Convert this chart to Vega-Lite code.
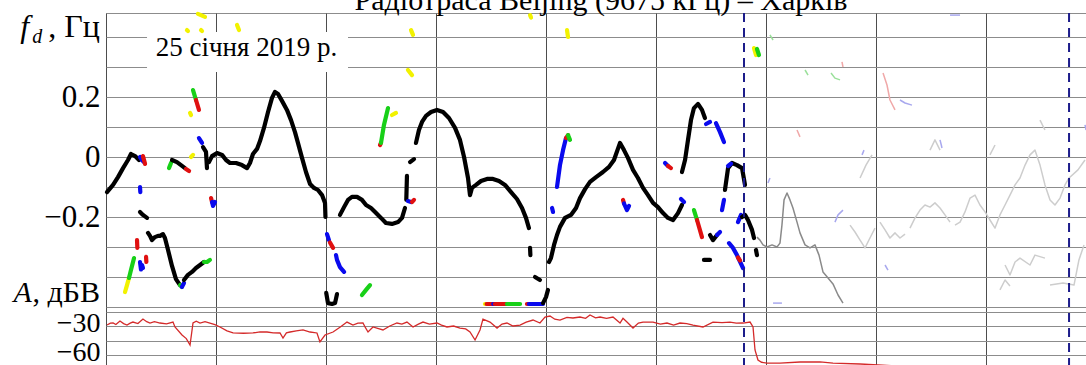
{
  "$schema": "https://vega.github.io/schema/vega-lite/v6.json",
  "width": 990,
  "height": 357,
  "autosize": {"type": "none"},
  "padding": {"left": 106, "top": 13, "right": 0, "bottom": 0},
  "background": "white",
  "datasets": {
    "freq": [
      {"s":1,"c":"k","t":0.009,"f":-0.117},{"s":1,"c":"k","t":0.064,"f":-0.093},{"s":1,"c":"k","t":0.109,"f":-0.067},{"s":1,"c":"k","t":0.155,"f":-0.037},{"s":1,"c":"k","t":0.2,"f":-0.01},{"s":1,"c":"k","t":0.227,"f":0.01},{"s":1,"c":"k","t":0.264,"f":0.003},{"s":1,"c":"k","t":0.3,"f":-0.01},
      {"s":2,"c":"b","t":0.309,"f":0.0},{"s":2,"c":"b","t":0.327,"f":-0.01},{"s":2,"c":"b","t":0.345,"f":-0.017},
      {"s":3,"c":"r","t":0.336,"f":0.003},{"s":3,"c":"r","t":0.355,"f":-0.023},
      {"s":4,"c":"k","t":0.309,"f":-0.183},{"s":4,"c":"k","t":0.336,"f":-0.193},{"s":4,"c":"k","t":0.373,"f":-0.203},
      {"s":5,"c":"b","t":0.309,"f":-0.1},{"s":5,"c":"b","t":0.312,"f":-0.117},
      {"s":6,"c":"k","t":0.382,"f":-0.253},{"s":6,"c":"k","t":0.4,"f":-0.263},{"s":6,"c":"k","t":0.418,"f":-0.277},{"s":6,"c":"k","t":0.445,"f":-0.267},{"s":6,"c":"k","t":0.473,"f":-0.263},{"s":6,"c":"k","t":0.491,"f":-0.263},{"s":6,"c":"k","t":0.518,"f":-0.257},{"s":6,"c":"k","t":0.536,"f":-0.27},{"s":6,"c":"k","t":0.564,"f":-0.31},{"s":6,"c":"k","t":0.6,"f":-0.363},{"s":6,"c":"k","t":0.636,"f":-0.407},{"s":6,"c":"k","t":0.673,"f":-0.427},
      {"s":7,"c":"g","t":0.673,"f":-0.427},{"s":7,"c":"g","t":0.69,"f":-0.433},
      {"s":8,"c":"b","t":0.69,"f":-0.433},{"s":8,"c":"b","t":0.709,"f":-0.42},
      {"s":9,"c":"k","t":0.709,"f":-0.41},{"s":9,"c":"k","t":0.745,"f":-0.393},{"s":9,"c":"k","t":0.782,"f":-0.383},{"s":9,"c":"k","t":0.818,"f":-0.37},{"s":9,"c":"k","t":0.855,"f":-0.36},{"s":9,"c":"k","t":0.891,"f":-0.35},
      {"s":10,"c":"g","t":0.891,"f":-0.35},{"s":10,"c":"g","t":0.918,"f":-0.35},{"s":10,"c":"g","t":0.945,"f":-0.343},
      {"s":11,"c":"y","t":0.173,"f":-0.45},{"s":11,"c":"y","t":0.191,"f":-0.427},{"s":11,"c":"y","t":0.209,"f":-0.403},
      {"s":12,"c":"g","t":0.209,"f":-0.403},{"s":12,"c":"g","t":0.227,"f":-0.377},{"s":12,"c":"g","t":0.255,"f":-0.337},
      {"s":13,"c":"r","t":0.282,"f":-0.277},{"s":13,"c":"r","t":0.285,"f":-0.303},
      {"s":14,"c":"b","t":0.309,"f":-0.35},{"s":14,"c":"b","t":0.318,"f":-0.375},{"s":14,"c":"b","t":0.327,"f":-0.36},{"s":14,"c":"b","t":0.336,"f":-0.37},
      {"s":15,"c":"r","t":0.364,"f":-0.333},{"s":15,"c":"r","t":0.367,"f":-0.35},
      {"s":16,"c":"g","t":0.573,"f":-0.037},{"s":16,"c":"g","t":0.591,"f":-0.02},
      {"s":17,"c":"k","t":0.6,"f":-0.01},{"s":17,"c":"k","t":0.645,"f":-0.017},{"s":17,"c":"k","t":0.682,"f":-0.027},{"s":17,"c":"k","t":0.718,"f":-0.037},
      {"s":18,"c":"r","t":0.727,"f":-0.04},{"s":18,"c":"r","t":0.755,"f":-0.047},
      {"s":19,"c":"y","t":0.773,"f":0.0},{"s":19,"c":"y","t":0.791,"f":0.007},
      {"s":20,"c":"b","t":0.845,"f":0.063},{"s":20,"c":"b","t":0.873,"f":0.047},
      {"s":21,"c":"k","t":0.882,"f":0.033},{"s":21,"c":"k","t":0.909,"f":0.017},{"s":21,"c":"k","t":0.918,"f":-0.037},
      {"s":22,"c":"r","t":0.955,"f":-0.137},{"s":22,"c":"r","t":0.964,"f":-0.15},
      {"s":23,"c":"b","t":0.964,"f":-0.15},{"s":23,"c":"b","t":0.973,"f":-0.163},{"s":23,"c":"b","t":0.991,"f":-0.15},
      {"s":24,"c":"k","t":0.936,"f":-0.017},{"s":24,"c":"k","t":0.964,"f":0.003},{"s":24,"c":"k","t":1.009,"f":0.013},{"s":24,"c":"k","t":1.055,"f":0.007},{"s":24,"c":"k","t":1.091,"f":-0.01},{"s":24,"c":"k","t":1.127,"f":-0.02},{"s":24,"c":"k","t":1.182,"f":-0.02},{"s":24,"c":"k","t":1.236,"f":-0.027},{"s":24,"c":"k","t":1.282,"f":-0.037},{"s":24,"c":"k","t":1.309,"f":-0.02},{"s":24,"c":"k","t":1.336,"f":0.01},{"s":24,"c":"k","t":1.373,"f":0.027},{"s":24,"c":"k","t":1.4,"f":0.053},{"s":24,"c":"k","t":1.436,"f":0.097},{"s":24,"c":"k","t":1.473,"f":0.15},{"s":24,"c":"k","t":1.509,"f":0.197},{"s":24,"c":"k","t":1.536,"f":0.217},{"s":24,"c":"k","t":1.564,"f":0.21},{"s":24,"c":"k","t":1.6,"f":0.187},{"s":24,"c":"k","t":1.645,"f":0.157},{"s":24,"c":"k","t":1.682,"f":0.123},{"s":24,"c":"k","t":1.718,"f":0.083},{"s":24,"c":"k","t":1.745,"f":0.047},{"s":24,"c":"k","t":1.782,"f":-0.003},{"s":24,"c":"k","t":1.818,"f":-0.05},{"s":24,"c":"k","t":1.855,"f":-0.09},{"s":24,"c":"k","t":1.891,"f":-0.103},{"s":24,"c":"k","t":1.927,"f":-0.11},{"s":24,"c":"k","t":1.964,"f":-0.127},{"s":24,"c":"k","t":1.991,"f":-0.153},{"s":24,"c":"k","t":1.995,"f":-0.2},
      {"s":25,"c":"k","t":2.002,"f":-0.453},{"s":25,"c":"k","t":2.018,"f":-0.487},{"s":25,"c":"k","t":2.055,"f":-0.49},{"s":25,"c":"k","t":2.082,"f":-0.487},{"s":25,"c":"k","t":2.1,"f":-0.457},
      {"s":26,"c":"b","t":2.009,"f":-0.257},{"s":26,"c":"b","t":2.027,"f":-0.277},
      {"s":27,"c":"r","t":2.036,"f":-0.285},{"s":27,"c":"r","t":2.064,"f":-0.303},
      {"s":28,"c":"b","t":2.091,"f":-0.327},{"s":28,"c":"b","t":2.1,"f":-0.343},{"s":28,"c":"b","t":2.127,"f":-0.367},{"s":28,"c":"b","t":2.164,"f":-0.383},
      {"s":29,"c":"g","t":2.327,"f":-0.46},{"s":29,"c":"g","t":2.364,"f":-0.443},{"s":29,"c":"g","t":2.4,"f":-0.427},
      {"s":30,"c":"k","t":2.127,"f":-0.193},{"s":30,"c":"k","t":2.164,"f":-0.167},{"s":30,"c":"k","t":2.2,"f":-0.143},{"s":30,"c":"k","t":2.236,"f":-0.133},{"s":30,"c":"k","t":2.282,"f":-0.133},{"s":30,"c":"k","t":2.327,"f":-0.143},{"s":30,"c":"k","t":2.364,"f":-0.16},{"s":30,"c":"k","t":2.409,"f":-0.17},{"s":30,"c":"k","t":2.455,"f":-0.187},{"s":30,"c":"k","t":2.5,"f":-0.203},{"s":30,"c":"k","t":2.545,"f":-0.22},{"s":30,"c":"k","t":2.6,"f":-0.223},{"s":30,"c":"k","t":2.655,"f":-0.217},{"s":30,"c":"k","t":2.691,"f":-0.203},{"s":30,"c":"k","t":2.718,"f":-0.17},
      {"s":31,"c":"k","t":2.73,"f":-0.143},{"s":31,"c":"k","t":2.736,"f":-0.063},
      {"s":32,"c":"b","t":2.745,"f":-0.147},{"s":32,"c":"b","t":2.773,"f":-0.15},
      {"s":33,"c":"r","t":2.782,"f":-0.15},{"s":33,"c":"r","t":2.8,"f":-0.143},
      {"s":34,"c":"k","t":2.764,"f":-0.017},{"s":34,"c":"k","t":2.8,"f":-0.007},
      {"s":35,"c":"k","t":2.818,"f":0.047},{"s":35,"c":"k","t":2.845,"f":0.09},{"s":35,"c":"k","t":2.873,"f":0.117},{"s":35,"c":"k","t":2.909,"f":0.137},{"s":35,"c":"k","t":2.955,"f":0.15},{"s":35,"c":"k","t":3.009,"f":0.157},{"s":35,"c":"k","t":3.064,"f":0.15},{"s":35,"c":"k","t":3.118,"f":0.13},{"s":35,"c":"k","t":3.173,"f":0.097},{"s":35,"c":"k","t":3.218,"f":0.057},{"s":35,"c":"k","t":3.255,"f":0.0},{"s":35,"c":"k","t":3.291,"f":-0.07},{"s":35,"c":"k","t":3.309,"f":-0.127},{"s":35,"c":"k","t":3.327,"f":-0.103},{"s":35,"c":"k","t":3.364,"f":-0.093},{"s":35,"c":"k","t":3.409,"f":-0.08},{"s":35,"c":"k","t":3.464,"f":-0.073},{"s":35,"c":"k","t":3.518,"f":-0.073},{"s":35,"c":"k","t":3.573,"f":-0.08},{"s":35,"c":"k","t":3.627,"f":-0.093},{"s":35,"c":"k","t":3.682,"f":-0.117},{"s":35,"c":"k","t":3.736,"f":-0.14},{"s":35,"c":"k","t":3.782,"f":-0.17},{"s":35,"c":"k","t":3.818,"f":-0.203},{"s":35,"c":"k","t":3.845,"f":-0.237},
      {"s":36,"c":"k","t":3.855,"f":-0.303},{"s":36,"c":"k","t":3.858,"f":-0.327},
      {"s":37,"c":"k","t":3.9,"f":-0.4},{"s":37,"c":"k","t":3.945,"f":-0.41},
      {"s":38,"c":"y","t":3.445,"f":-0.49},{"s":38,"c":"y","t":3.46,"f":-0.49},
      {"s":39,"c":"r","t":3.46,"f":-0.49},{"s":39,"c":"r","t":3.52,"f":-0.49},
      {"s":40,"c":"b","t":3.52,"f":-0.49},{"s":40,"c":"b","t":3.535,"f":-0.49},
      {"s":41,"c":"r","t":3.535,"f":-0.49},{"s":41,"c":"r","t":3.645,"f":-0.49},
      {"s":42,"c":"g","t":3.645,"f":-0.49},{"s":42,"c":"g","t":3.764,"f":-0.49},
      {"s":43,"c":"r","t":3.827,"f":-0.49},{"s":43,"c":"r","t":3.845,"f":-0.49},
      {"s":44,"c":"b","t":3.845,"f":-0.49},{"s":44,"c":"b","t":3.973,"f":-0.49},
      {"s":45,"c":"k","t":3.973,"f":-0.487},{"s":45,"c":"k","t":4.0,"f":-0.467},{"s":45,"c":"k","t":4.018,"f":-0.443},
      {"s":46,"c":"k","t":4.027,"f":-0.35},{"s":46,"c":"k","t":4.045,"f":-0.337},{"s":46,"c":"k","t":4.073,"f":-0.293},{"s":46,"c":"k","t":4.1,"f":-0.26},{"s":46,"c":"k","t":4.127,"f":-0.233},{"s":46,"c":"k","t":4.173,"f":-0.203},{"s":46,"c":"k","t":4.227,"f":-0.193},{"s":46,"c":"k","t":4.273,"f":-0.17},{"s":46,"c":"k","t":4.309,"f":-0.137},{"s":46,"c":"k","t":4.355,"f":-0.107},{"s":46,"c":"k","t":4.4,"f":-0.083},{"s":46,"c":"k","t":4.455,"f":-0.067},{"s":46,"c":"k","t":4.518,"f":-0.05},{"s":46,"c":"k","t":4.573,"f":-0.033},{"s":46,"c":"k","t":4.618,"f":-0.01},{"s":46,"c":"k","t":4.673,"f":0.047},{"s":46,"c":"k","t":4.709,"f":0.023},{"s":46,"c":"k","t":4.745,"f":-0.003},{"s":46,"c":"k","t":4.791,"f":-0.043},{"s":46,"c":"k","t":4.836,"f":-0.07},{"s":46,"c":"k","t":4.882,"f":-0.103},{"s":46,"c":"k","t":4.927,"f":-0.127},{"s":46,"c":"k","t":4.973,"f":-0.153},{"s":46,"c":"k","t":5.018,"f":-0.167},{"s":46,"c":"k","t":5.064,"f":-0.187},{"s":46,"c":"k","t":5.109,"f":-0.203},{"s":46,"c":"k","t":5.155,"f":-0.21},{"s":46,"c":"k","t":5.2,"f":-0.187},{"s":46,"c":"k","t":5.236,"f":-0.16},
      {"s":47,"c":"b","t":4.055,"f":-0.17},{"s":47,"c":"b","t":4.064,"f":-0.183},
      {"s":48,"c":"b","t":4.1,"f":-0.1},{"s":48,"c":"b","t":4.127,"f":-0.027},{"s":48,"c":"b","t":4.155,"f":0.023},{"s":48,"c":"b","t":4.182,"f":0.063},
      {"s":49,"c":"r","t":4.182,"f":0.063},{"s":49,"c":"r","t":4.2,"f":0.073},
      {"s":50,"c":"g","t":4.2,"f":0.073},{"s":50,"c":"g","t":4.218,"f":0.057},
      {"s":51,"c":"r","t":4.7,"f":-0.143},{"s":51,"c":"r","t":4.709,"f":-0.155},
      {"s":52,"c":"b","t":4.709,"f":-0.155},{"s":52,"c":"b","t":4.736,"f":-0.177},{"s":52,"c":"b","t":4.755,"f":-0.163},
      {"s":53,"c":"b","t":5.082,"f":-0.02},{"s":53,"c":"b","t":5.109,"f":-0.03},
      {"s":54,"c":"r","t":5.109,"f":-0.03},{"s":54,"c":"r","t":5.136,"f":-0.037},
      {"s":55,"c":"k","t":5.236,"f":-0.05},{"s":55,"c":"k","t":5.264,"f":-0.01},{"s":55,"c":"k","t":5.291,"f":0.057},{"s":55,"c":"k","t":5.318,"f":0.123},{"s":55,"c":"k","t":5.345,"f":0.163},{"s":55,"c":"k","t":5.382,"f":0.177},{"s":55,"c":"k","t":5.418,"f":0.157},{"s":55,"c":"k","t":5.445,"f":0.13},
      {"s":56,"c":"b","t":5.455,"f":0.11},{"s":56,"c":"b","t":5.491,"f":0.117},
      {"s":57,"c":"b","t":5.545,"f":0.113},{"s":57,"c":"b","t":5.582,"f":0.083},{"s":57,"c":"b","t":5.618,"f":0.05},
      {"s":58,"c":"b","t":5.6,"f":-0.177},{"s":58,"c":"b","t":5.618,"f":-0.143},
      {"s":59,"c":"k","t":5.627,"f":-0.11},{"s":59,"c":"k","t":5.655,"f":-0.037},{"s":59,"c":"k","t":5.691,"f":-0.02},{"s":59,"c":"k","t":5.736,"f":-0.027},{"s":59,"c":"k","t":5.782,"f":-0.037},{"s":59,"c":"k","t":5.809,"f":-0.093},
      {"s":60,"c":"b","t":5.655,"f":-0.03},{"s":60,"c":"b","t":5.682,"f":-0.022},
      {"s":61,"c":"g","t":5.345,"f":-0.177},{"s":61,"c":"g","t":5.373,"f":-0.21},
      {"s":62,"c":"r","t":5.373,"f":-0.21},{"s":62,"c":"r","t":5.418,"f":-0.267},
      {"s":63,"c":"k","t":5.491,"f":-0.26},{"s":63,"c":"k","t":5.518,"f":-0.277},{"s":63,"c":"k","t":5.555,"f":-0.26},
      {"s":64,"c":"b","t":5.555,"f":-0.26},{"s":64,"c":"b","t":5.582,"f":-0.25},
      {"s":65,"c":"k","t":5.436,"f":-0.343},{"s":65,"c":"k","t":5.491,"f":-0.343},
      {"s":66,"c":"b","t":5.664,"f":-0.287},{"s":66,"c":"b","t":5.7,"f":-0.303},{"s":66,"c":"b","t":5.736,"f":-0.327},{"s":66,"c":"b","t":5.791,"f":-0.37},
      {"s":67,"c":"r","t":5.745,"f":-0.335},{"s":67,"c":"r","t":5.764,"f":-0.345},
      {"s":68,"c":"b","t":5.745,"f":-0.217},{"s":68,"c":"b","t":5.773,"f":-0.193},
      {"s":69,"c":"k","t":5.782,"f":-0.2},{"s":69,"c":"k","t":5.809,"f":-0.193},{"s":69,"c":"k","t":5.836,"f":-0.21},{"s":69,"c":"k","t":5.873,"f":-0.243},{"s":69,"c":"k","t":5.891,"f":-0.27},
      {"s":70,"c":"k","t":5.909,"f":-0.31},{"s":70,"c":"k","t":5.918,"f":-0.327},
      {"s":71,"c":"b","t":5.227,"f":-0.14},{"s":71,"c":"b","t":5.255,"f":-0.15},
      {"s":72,"c":"y","t":0.836,"f":0.477},{"s":72,"c":"y","t":0.9,"f":0.467},
      {"s":73,"c":"y","t":0.736,"f":0.423},{"s":73,"c":"y","t":0.745,"f":0.42},
      {"s":74,"c":"y","t":0.864,"f":0.423},{"s":74,"c":"y","t":0.873,"f":0.42},
      {"s":75,"c":"y","t":1.191,"f":0.44},{"s":75,"c":"y","t":1.209,"f":0.423},
      {"s":76,"c":"g","t":0.791,"f":0.223},{"s":76,"c":"g","t":0.818,"f":0.19},
      {"s":77,"c":"r","t":0.818,"f":0.19},{"s":77,"c":"r","t":0.845,"f":0.157},
      {"s":78,"c":"y","t":0.764,"f":0.147},{"s":78,"c":"y","t":0.773,"f":0.14},
      {"s":79,"c":"r","t":2.491,"f":0.04},{"s":79,"c":"r","t":2.5,"f":0.047},
      {"s":80,"c":"g","t":2.5,"f":0.047},{"s":80,"c":"g","t":2.527,"f":0.107},{"s":80,"c":"g","t":2.564,"f":0.163},
      {"s":81,"c":"y","t":2.6,"f":0.14},{"s":81,"c":"y","t":2.636,"f":0.147},
      {"s":82,"c":"y","t":2.773,"f":0.423},{"s":82,"c":"y","t":2.791,"f":0.407},
      {"s":83,"c":"y","t":2.745,"f":0.29},{"s":83,"c":"y","t":2.782,"f":0.273},
      {"s":84,"c":"y","t":3.855,"f":0.473},{"s":84,"c":"y","t":3.864,"f":0.465},
      {"s":85,"c":"y","t":4.191,"f":0.423},{"s":85,"c":"y","t":4.2,"f":0.4},
      {"s":86,"c":"y","t":5.891,"f":0.363},{"s":86,"c":"y","t":5.909,"f":0.34},
      {"s":87,"c":"g","t":5.918,"f":0.36},{"s":87,"c":"g","t":5.936,"f":0.34},
      {"s":90,"c":"gr","t":5.918,"f":-0.267},{"s":90,"c":"gr","t":5.945,"f":-0.277},{"s":90,"c":"gr","t":5.973,"f":-0.293},{"s":90,"c":"gr","t":6.009,"f":-0.3},{"s":90,"c":"gr","t":6.055,"f":-0.293},{"s":90,"c":"gr","t":6.1,"f":-0.3},{"s":90,"c":"gr","t":6.127,"f":-0.287},{"s":90,"c":"gr","t":6.145,"f":-0.227},{"s":90,"c":"gr","t":6.164,"f":-0.143},{"s":90,"c":"gr","t":6.191,"f":-0.12},{"s":90,"c":"gr","t":6.218,"f":-0.143},{"s":90,"c":"gr","t":6.245,"f":-0.17},{"s":90,"c":"gr","t":6.282,"f":-0.217},{"s":90,"c":"gr","t":6.309,"f":-0.253},{"s":90,"c":"gr","t":6.355,"f":-0.293},{"s":90,"c":"gr","t":6.4,"f":-0.303},{"s":90,"c":"gr","t":6.445,"f":-0.293},{"s":90,"c":"gr","t":6.482,"f":-0.327},{"s":90,"c":"gr","t":6.518,"f":-0.383},{"s":90,"c":"gr","t":6.564,"f":-0.403},{"s":90,"c":"gr","t":6.609,"f":-0.423},{"s":90,"c":"gr","t":6.655,"f":-0.46},{"s":90,"c":"gr","t":6.7,"f":-0.487},
      {"s":91,"c":"lg","t":6.764,"f":-0.227},{"s":91,"c":"lg","t":6.809,"f":-0.25},{"s":91,"c":"lg","t":6.855,"f":-0.277},{"s":91,"c":"lg","t":6.9,"f":-0.303},{"s":91,"c":"lg","t":6.945,"f":-0.27},{"s":91,"c":"lg","t":6.991,"f":-0.237},
      {"s":92,"c":"lg","t":7.036,"f":-0.217},{"s":92,"c":"lg","t":7.082,"f":-0.243},{"s":92,"c":"lg","t":7.127,"f":-0.27},{"s":92,"c":"lg","t":7.173,"f":-0.253},{"s":92,"c":"lg","t":7.218,"f":-0.27},{"s":92,"c":"lg","t":7.264,"f":-0.257},
      {"s":93,"c":"lg","t":7.309,"f":-0.237},{"s":93,"c":"lg","t":7.355,"f":-0.203},{"s":93,"c":"lg","t":7.4,"f":-0.177},{"s":93,"c":"lg","t":7.445,"f":-0.16},{"s":93,"c":"lg","t":7.491,"f":-0.167},{"s":93,"c":"lg","t":7.536,"f":-0.153},{"s":93,"c":"lg","t":7.582,"f":-0.17},{"s":93,"c":"lg","t":7.627,"f":-0.193},{"s":93,"c":"lg","t":7.673,"f":-0.217},
      {"s":94,"c":"lg","t":7.718,"f":-0.227},{"s":94,"c":"lg","t":7.764,"f":-0.217},{"s":94,"c":"lg","t":7.809,"f":-0.183},{"s":94,"c":"lg","t":7.855,"f":-0.137},{"s":94,"c":"lg","t":7.9,"f":-0.127},{"s":94,"c":"lg","t":7.945,"f":-0.16},{"s":94,"c":"lg","t":7.991,"f":-0.183},{"s":94,"c":"lg","t":8.036,"f":-0.21},{"s":94,"c":"lg","t":8.082,"f":-0.237},{"s":94,"c":"lg","t":8.127,"f":-0.193},{"s":94,"c":"lg","t":8.173,"f":-0.16},{"s":94,"c":"lg","t":8.218,"f":-0.127},{"s":94,"c":"lg","t":8.264,"f":-0.093},{"s":94,"c":"lg","t":8.309,"f":-0.07},{"s":94,"c":"lg","t":8.355,"f":-0.027},{"s":94,"c":"lg","t":8.4,"f":0.007},{"s":94,"c":"lg","t":8.445,"f":0.023},{"s":94,"c":"lg","t":8.491,"f":-0.027},{"s":94,"c":"lg","t":8.536,"f":-0.093},{"s":94,"c":"lg","t":8.582,"f":-0.143},{"s":94,"c":"lg","t":8.627,"f":-0.16},{"s":94,"c":"lg","t":8.673,"f":-0.137},{"s":94,"c":"lg","t":8.718,"f":-0.093},{"s":94,"c":"lg","t":8.755,"f":-0.07},{"s":94,"c":"lg","t":8.836,"f":-0.043},{"s":94,"c":"lg","t":8.9,"f":-0.01},
      {"s":95,"c":"lg","t":8.173,"f":-0.36},{"s":95,"c":"lg","t":8.218,"f":-0.393},{"s":95,"c":"lg","t":8.264,"f":-0.35},{"s":95,"c":"lg","t":8.309,"f":-0.337},{"s":95,"c":"lg","t":8.4,"f":-0.36},{"s":95,"c":"lg","t":8.445,"f":-0.327},{"s":95,"c":"lg","t":8.536,"f":-0.337},
      {"s":96,"c":"lg","t":8.127,"f":-0.443},{"s":96,"c":"lg","t":8.173,"f":-0.41},{"s":96,"c":"lg","t":8.218,"f":-0.43},
      {"s":97,"c":"lg","t":8.582,"f":-0.427},{"s":97,"c":"lg","t":8.7,"f":-0.42},{"s":97,"c":"lg","t":8.8,"f":-0.427},{"s":97,"c":"lg","t":8.845,"f":-0.343},{"s":97,"c":"lg","t":8.891,"f":-0.293},
      {"s":98,"c":"lg","t":6.855,"f":-0.07},{"s":98,"c":"lg","t":6.909,"f":-0.027},{"s":98,"c":"lg","t":6.964,"f":0.007},
      {"s":99,"c":"lg","t":7.491,"f":0.023},{"s":99,"c":"lg","t":7.536,"f":0.057},{"s":99,"c":"lg","t":7.582,"f":0.023},
      {"s":100,"c":"lg","t":8.036,"f":0.007},{"s":100,"c":"lg","t":8.082,"f":0.04},
      {"s":101,"c":"lg","t":8.491,"f":0.123},{"s":101,"c":"lg","t":8.536,"f":0.09},
      {"s":102,"c":"lb","t":6.018,"f":-0.087},{"s":102,"c":"lb","t":6.036,"f":-0.07},
      {"s":103,"c":"lb","t":6.627,"f":-0.217},{"s":103,"c":"lb","t":6.655,"f":-0.193},{"s":103,"c":"lb","t":6.7,"f":-0.177},
      {"s":104,"c":"lb","t":6.873,"f":0.007},{"s":104,"c":"lb","t":6.891,"f":0.023},
      {"s":105,"c":"lb","t":7.082,"f":-0.36},{"s":105,"c":"lb","t":7.109,"f":-0.377},
      {"s":106,"c":"lb","t":6.064,"f":-0.487},{"s":106,"c":"lb","t":6.145,"f":-0.487},
      {"s":107,"c":"lb","t":7.582,"f":0.057},{"s":107,"c":"lb","t":7.6,"f":0.03},
      {"s":108,"c":"lb","t":7.218,"f":0.19},{"s":108,"c":"lb","t":7.264,"f":0.18},{"s":108,"c":"lb","t":7.327,"f":0.173},
      {"s":109,"c":"lb","t":7.673,"f":0.473},{"s":109,"c":"lb","t":7.764,"f":0.473},
      {"s":110,"c":"lb","t":8.9,"f":0.107},{"s":110,"c":"lb","t":8.91,"f":0.09},
      {"s":112,"c":"lr","t":6.282,"f":0.09},{"s":112,"c":"lr","t":6.309,"f":0.067},
      {"s":113,"c":"lr","t":7.064,"f":0.28},{"s":113,"c":"lr","t":7.1,"f":0.24},{"s":113,"c":"lr","t":7.127,"f":0.19},{"s":113,"c":"lr","t":7.173,"f":0.157},
      {"s":114,"c":"lgn","t":6.036,"f":0.407},{"s":114,"c":"lgn","t":6.064,"f":0.39},
      {"s":115,"c":"lgn","t":6.355,"f":0.29},{"s":115,"c":"lgn","t":6.382,"f":0.273},
      {"s":116,"c":"lgn","t":6.591,"f":0.28},{"s":116,"c":"lgn","t":6.627,"f":0.263},{"s":116,"c":"lgn","t":6.673,"f":0.257},
      {"s":117,"c":"lr","t":6.691,"f":0.317},{"s":117,"c":"lr","t":6.7,"f":0.3}
    ],
    "amp": [
      {"t":0.009,"a":-29},{"t":0.04,"a":-27},{"t":0.064,"a":-26.9},{"t":0.09,"a":-28.5},{"t":0.127,"a":-24.8},{"t":0.16,"a":-27.5},{"t":0.191,"a":-29},{"t":0.22,"a":-27},{"t":0.245,"a":-25.9},{"t":0.29,"a":-27.5},{"t":0.336,"a":-22.8},{"t":0.37,"a":-25.5},{"t":0.4,"a":-26.9},{"t":0.44,"a":-25.5},{"t":0.491,"a":-26.9},{"t":0.55,"a":-27.8},{"t":0.609,"a":-25.9},{"t":0.627,"a":-31},{"t":0.691,"a":-39.3},{"t":0.73,"a":-43},{"t":0.764,"a":-49.7},{"t":0.791,"a":-26.9},{"t":0.82,"a":-25},{"t":0.855,"a":-26.9},{"t":0.9,"a":-25.5},{"t":0.945,"a":-26.9},{"t":0.99,"a":-28.5},{"t":1.036,"a":-31},{"t":1.1,"a":-35},{"t":1.155,"a":-37.2},{"t":1.25,"a":-37.5},{"t":1.336,"a":-37.2},{"t":1.4,"a":-36},{"t":1.464,"a":-36.2},{"t":1.52,"a":-37},{"t":1.582,"a":-37.2},{"t":1.609,"a":-42.4},{"t":1.64,"a":-37},{"t":1.673,"a":-36.2},{"t":1.73,"a":-35},{"t":1.791,"a":-34.1},{"t":1.855,"a":-36.2},{"t":1.918,"a":-37.2},{"t":1.945,"a":-46.5},{"t":1.991,"a":-39.3},{"t":2.064,"a":-36.2},{"t":2.13,"a":-31},{"t":2.191,"a":-25.9},{"t":2.245,"a":-29},{"t":2.29,"a":-27},{"t":2.336,"a":-26.9},{"t":2.36,"a":-32},{"t":2.382,"a":-36.2},{"t":2.427,"a":-31},{"t":2.47,"a":-32.5},{"t":2.518,"a":-34.1},{"t":2.58,"a":-30},{"t":2.645,"a":-26.9},{"t":2.69,"a":-28},{"t":2.736,"a":-25.9},{"t":2.791,"a":-31},{"t":2.84,"a":-28},{"t":2.882,"a":-25.9},{"t":2.94,"a":-28},{"t":3.009,"a":-26.9},{"t":3.05,"a":-29},{"t":3.1,"a":-31},{"t":3.16,"a":-30},{"t":3.218,"a":-32.1},{"t":3.27,"a":-33},{"t":3.309,"a":-36.2},{"t":3.355,"a":-44.5},{"t":3.4,"a":-34.1},{"t":3.427,"a":-22.8},{"t":3.491,"a":-25.9},{"t":3.555,"a":-32.1},{"t":3.6,"a":-28},{"t":3.645,"a":-26.9},{"t":3.7,"a":-30},{"t":3.764,"a":-29},{"t":3.82,"a":-26},{"t":3.882,"a":-23.8},{"t":3.945,"a":-26.9},{"t":3.991,"a":-20.7},{"t":4.036,"a":-19.7},{"t":4.08,"a":-23},{"t":4.127,"a":-23.8},{"t":4.19,"a":-21},{"t":4.245,"a":-21.7},{"t":4.309,"a":-20.7},{"t":4.36,"a":-22},{"t":4.4,"a":-18.6},{"t":4.45,"a":-21.5},{"t":4.491,"a":-20.7},{"t":4.55,"a":-22},{"t":4.609,"a":-20.7},{"t":4.673,"a":-26.9},{"t":4.7,"a":-22},{"t":4.736,"a":-25.9},{"t":4.791,"a":-32.1},{"t":4.84,"a":-27},{"t":4.882,"a":-25.9},{"t":4.973,"a":-25.9},{"t":5.04,"a":-28},{"t":5.1,"a":-26.9},{"t":5.16,"a":-29},{"t":5.218,"a":-26.9},{"t":5.28,"a":-27.5},{"t":5.336,"a":-29},{"t":5.427,"a":-31},{"t":5.518,"a":-25.9},{"t":5.6,"a":-26.5},{"t":5.673,"a":-25.9},{"t":5.73,"a":-27},{"t":5.791,"a":-26.9},{"t":5.855,"a":-25.9},{"t":5.882,"a":-31},{"t":5.9,"a":-54.8},{"t":5.927,"a":-65.2},{"t":5.96,"a":-67.5},{"t":6.009,"a":-68.3},{"t":6.127,"a":-68.3},{"t":6.309,"a":-67.2},{"t":6.491,"a":-67.2},{"t":6.609,"a":-68.3},{"t":6.855,"a":-69.3},{"t":7.218,"a":-71.4},{"t":8.127,"a":-72.4},{"t":9,"a":-72.4}
    ],
    "events": [{"t": 5.8}, {"t": 8.755}]
  },
  "layer": [
    {
      "data": {"values": [{"box": "date"}]},
      "mark": {"type": "rect", "fill": "white", "stroke": null},
      "encoding": {
        "x": {"datum": 0.373, "type": "quantitative", "scale": {"domain": [0, 9], "nice": false, "zero": false}, "axis": {"values": [0,1,2,3,4,5,6,7,8,9], "tickCount": 30, "grid": true, "gridColor": "#4d4d4d", "gridWidth": 1, "labels": false, "ticks": false, "domain": false, "title": null}},
        "x2": {"datum": 2.2},
        "y": {"datum": 0.417, "type": "quantitative", "scale": {"domain": [-0.71, 0.48], "nice": false, "zero": false}, "axis": {"orient": "left", "values": [-0.2, 0, 0.2], "tickCount": 30, "grid": false, "ticks": false, "domain": false, "title": null, "labelOverlap": false, "labelFont": "Liberation Serif", "labelFontSize": 31, "labelColor": "#000000", "labelPadding": 6, "labelExpr": "datum.value < -0.1 ? '\u22120.2' : datum.value > 0.1 ? '0.2' : '0'"}},
        "y2": {"datum": 0.283}
      }
    },
    {
      "layer": [
        {
          "data": {"name": "freq"},
          "transform": [{"filter": "indexof(['k','b','r','g','y'], datum.c) >= 0"}],
          "mark": {"type": "line", "strokeWidth": 4.2, "strokeCap": "round", "strokeJoin": "round"},
          "encoding": {
            "x": {"field": "t", "type": "quantitative"},
            "y": {"field": "f", "type": "quantitative", "scale": {"domain": [-0.71, 0.48], "nice": false, "zero": false}, "axis": {"orient": "left", "values": [-0.5,-0.4,-0.3,-0.2,-0.1,0,0.1,0.2,0.3,0.4], "tickCount": 30, "grid": true, "gridColor": "#8c8c8c", "gridWidth": 1, "ticks": false, "domain": false, "labels": false, "title": null}},
            "detail": {"field": "s", "type": "nominal"},
            "color": {"field": "c", "type": "nominal", "legend": null, "scale": {"domain": ["k","b","r","g","y","gr","lg","lb","lr","lgn"], "range": ["#000000","#0a0aee","#e01010","#18d018","#f2f200","#8a8a8a","#cdcdcd","#a8a8ee","#f0a8a8","#9ae09a"]}}
          }
        },
        {
          "data": {"name": "freq"},
          "transform": [{"filter": "indexof(['k','b','r','g','y'], datum.c) < 0"}],
          "mark": {"type": "line", "strokeWidth": 1.5, "strokeJoin": "round"},
          "encoding": {
            "x": {"field": "t", "type": "quantitative"},
            "y": {"field": "f", "type": "quantitative"},
            "detail": {"field": "s", "type": "nominal"},
            "color": {"field": "c", "type": "nominal", "legend": null}
          }
        },
        {
          "data": {"values": [{"label": "Радіотраса Beijing (9675 кГц) – Харків"}]},
          "mark": {"type": "text", "font": "Liberation Serif", "fontSize": 30, "color": "#000000", "align": "center", "baseline": "alphabetic"},
          "encoding": {"text": {"field": "label"}, "x": {"datum": 4.5}, "y": {"datum": 0.49}}
        },
        {
          "data": {"values": [{"label": "25 січня 2019 р."}]},
          "mark": {"type": "text", "font": "Liberation Serif", "fontSize": 27, "color": "#000000", "align": "center", "baseline": "middle"},
          "encoding": {"text": {"field": "label"}, "x": {"datum": 1.277}, "y": {"datum": 0.363}}
        },
        {
          "data": {"values": [{"label": "f"}]},
          "mark": {"type": "text", "font": "Liberation Serif", "fontSize": 32, "fontStyle": "italic", "color": "#000000", "align": "left", "baseline": "alphabetic"},
          "encoding": {"text": {"field": "label"}, "x": {"datum": -0.78}, "y": {"datum": 0.4}}
        },
        {
          "data": {"values": [{"label": "d"}]},
          "mark": {"type": "text", "font": "Liberation Serif", "fontSize": 20, "fontStyle": "italic", "color": "#000000", "align": "left", "baseline": "alphabetic"},
          "encoding": {"text": {"field": "label"}, "x": {"datum": -0.67}, "y": {"datum": 0.38}}
        },
        {
          "data": {"values": [{"label": ", Гц"}]},
          "mark": {"type": "text", "font": "Liberation Serif", "fontSize": 32, "color": "#000000", "align": "right", "baseline": "alphabetic"},
          "encoding": {"text": {"field": "label"}, "x": {"datum": -0.055}, "y": {"datum": 0.4}}
        },
        {
          "data": {"values": [{"label": "A"}]},
          "mark": {"type": "text", "font": "Liberation Serif", "fontSize": 30, "fontStyle": "italic", "color": "#000000", "align": "left", "baseline": "alphabetic"},
          "encoding": {"text": {"field": "label"}, "x": {"datum": -0.84}, "y": {"datum": -0.483}}
        },
        {
          "data": {"values": [{"label": ", дБВ"}]},
          "mark": {"type": "text", "font": "Liberation Serif", "fontSize": 30, "color": "#000000", "align": "right", "baseline": "alphabetic"},
          "encoding": {"text": {"field": "label"}, "x": {"datum": -0.055}, "y": {"datum": -0.483}}
        },
        {
          "data": {"name": "events"},
          "mark": {"type": "rule", "color": "#1c1c8a", "strokeWidth": 2, "strokeDash": [9, 6]},
          "encoding": {"x": {"field": "t", "type": "quantitative"}}
        }
      ]
    },
    {
      "data": {"name": "amp"},
      "mark": {"type": "line", "color": "#d42a2a", "strokeWidth": 1.3},
      "encoding": {
        "x": {"field": "t", "type": "quantitative"},
        "y": {"field": "a", "type": "quantitative", "scale": {"domain": [-75.5, 293.8], "nice": false, "zero": false}, "axis": {"orient": "left", "values": [-75,-60,-45,-30,-15], "tickCount": 30, "grid": true, "gridColor": "#8c8c8c", "gridWidth": 1, "ticks": false, "domain": false, "title": null, "labelOverlap": false, "labelFont": "Liberation Serif", "labelFontSize": 28, "labelColor": "#000000", "labelPadding": 6, "labelOffset": -3, "labelExpr": "abs(datum.value+30)<0.1 ? '\u221230' : abs(datum.value+60)<0.1 ? '\u221260' : ''"}}
      }
    }
  ],
  "resolve": {"scale": {"y": "independent"}, "axis": {"y": "independent"}},
  "config": {
    "view": {"stroke": "#8c8c8c", "strokeWidth": 1},
    "font": "Liberation Serif"
  }
}
